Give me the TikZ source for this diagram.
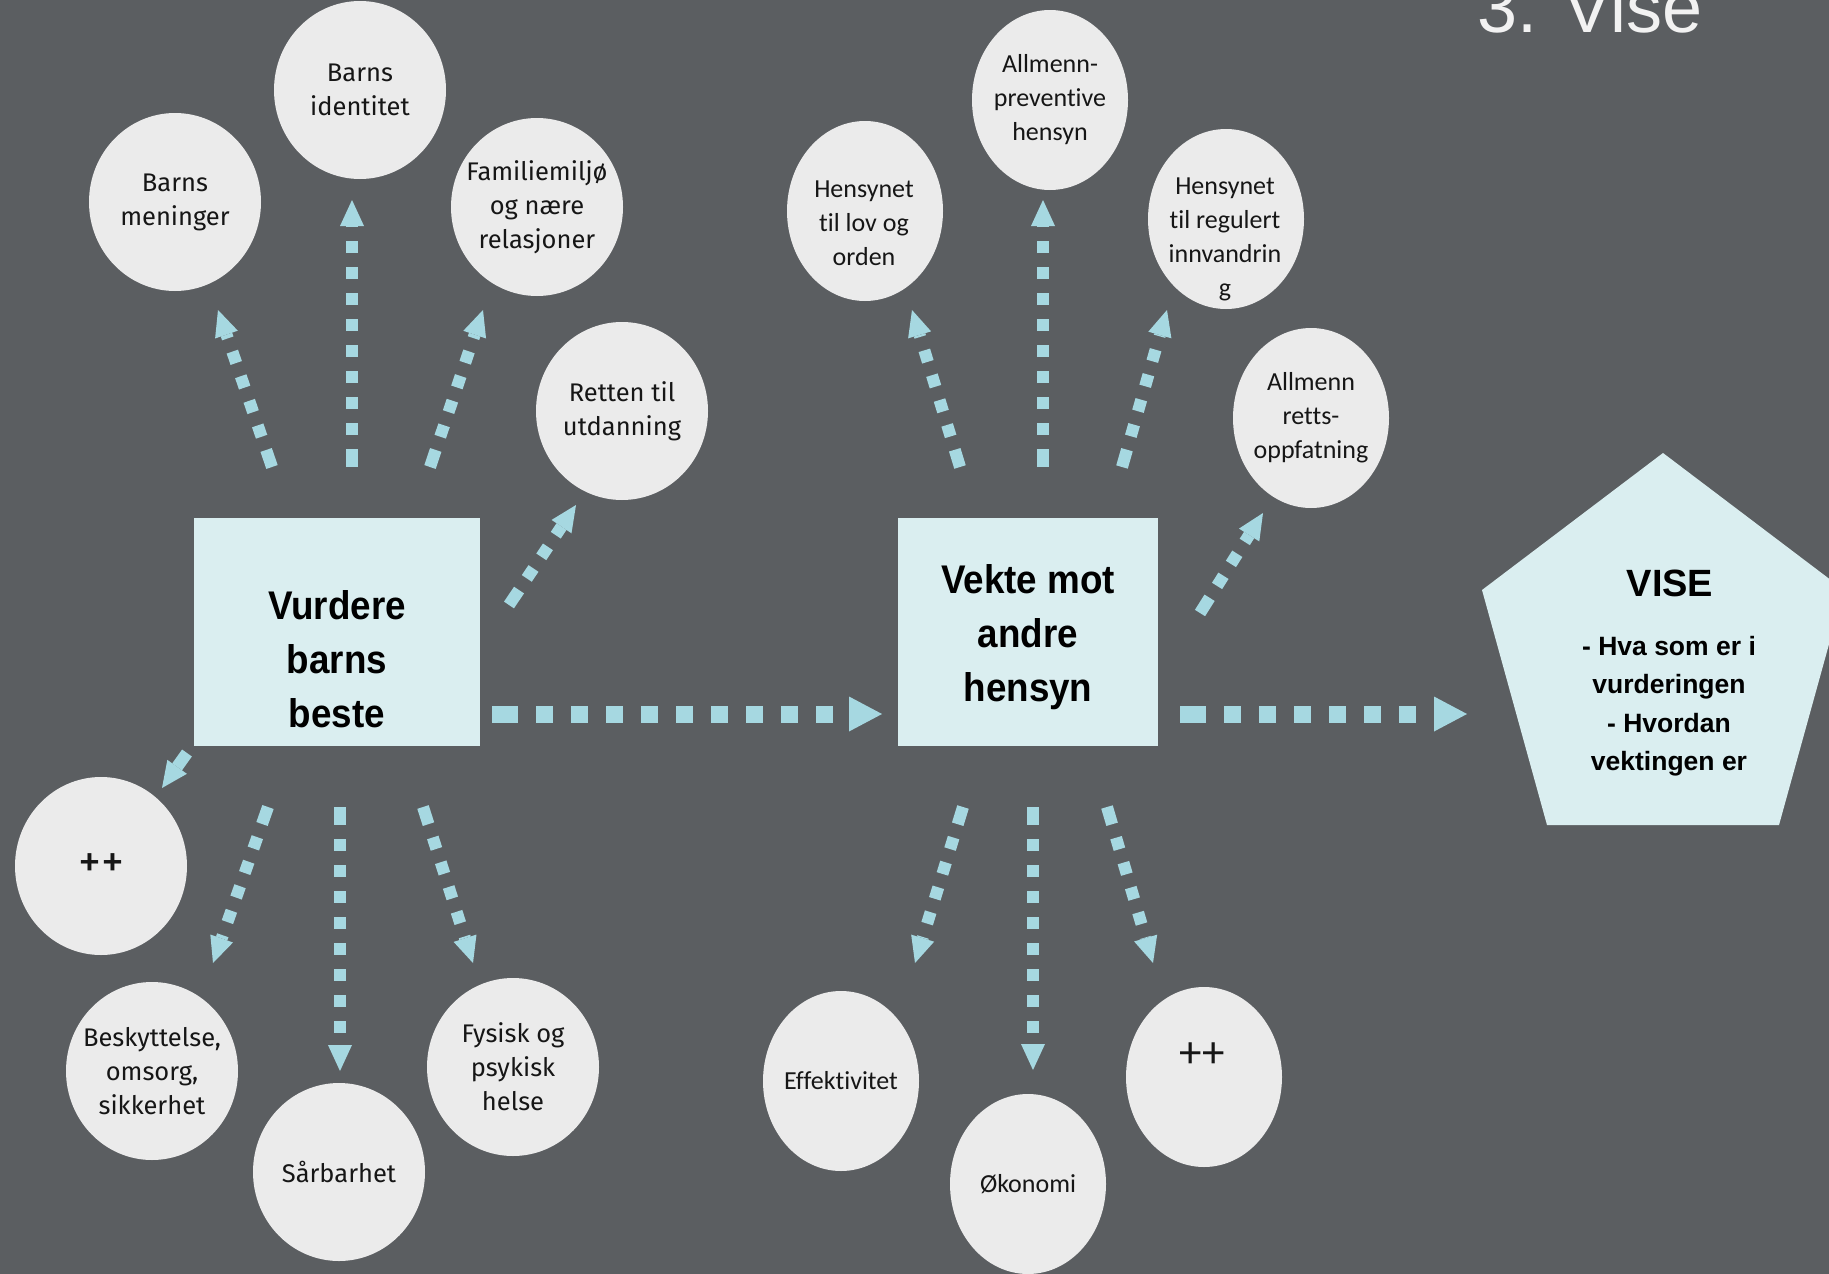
\documentclass[tikz,border=0pt]{standalone}
\usepackage{fontspec}
\setmainfont{Liberation Sans}
\newfontfamily\circfont{Fira Sans}
\newfontfamily\calfont[Ligatures=NoCommon]{Carlito}
\newfontfamily\boxfont[FakeStretch=0.92]{Liberation Sans}
\newfontfamily\pentfont{Liberation Sans}
\usetikzlibrary{shapes.geometric,arrows.meta}
\definecolor{bg}{RGB}{91,94,97}
\definecolor{circ}{RGB}{235,235,235}
\definecolor{boxc}{RGB}{218,238,240}
\definecolor{arrc}{RGB}{166,216,225}
\definecolor{ink}{RGB}{22,22,22}
\definecolor{titlec}{RGB}{242,242,242}
\begin{document}
\begin{tikzpicture}[x=1pt,y=-1pt,
  lcirc/.style={ellipse, fill=circ, inner sep=-30pt, minimum width=172pt, minimum height=178pt,
    text=ink, align=center, font=\circfont\fontsize{25.5}{34}\selectfont},
  mcirc/.style={ellipse, fill=circ, inner sep=-30pt, minimum width=156pt, minimum height=180pt,
    text=ink, align=center, font=\calfont\fontsize{26}{34}\selectfont},
  mtext/.style={text=ink, align=center, inner sep=0pt, font=\calfont\fontsize{26}{34}\selectfont},
  keybox/.style={fill=boxc, inner sep=0pt, minimum width=#1, minimum height=228pt},
  boxtext/.style={text=black, align=center, inner sep=0pt, font=\boxfont\bfseries\fontsize{40}{54}\selectfont},
  penttext/.style={text=black, align=center, inner sep=0pt, font=\pentfont\bfseries\fontsize{26.5}{38.5}\selectfont},
  thinarr/.style={draw=arrc, line width=12pt,
    dash pattern=on 18pt off 14pt on 12pt off 14pt on 12pt off 14pt on 12pt off 14pt on 12pt off 14pt on 12pt off 14pt on 12pt off 14pt on 12pt off 14pt on 12pt off 14pt on 12pt off 14pt on 12pt off 14pt on 12pt off 14pt on 12pt off 14pt,
    -{Triangle[length=26pt,width=24pt,line width=0pt]}},
  thickarr/.style={draw=arrc, line width=17pt,
    dash pattern=on 26pt off 18pt on 17pt off 18pt on 17pt off 18pt on 17pt off 18pt on 17pt off 18pt on 17pt off 18pt on 17pt off 18pt on 17pt off 18pt on 17pt off 18pt on 17pt off 18pt on 17pt off 18pt,
    -{Triangle[length=33pt,width=35pt,line width=0pt]}}
]
\useasboundingbox (0,0) rectangle (1829,1274);
\clip (0,0) rectangle (1829,1274);
\fill[bg] (0,0) rectangle (1829,1274);

% title
\node[anchor=base, inner sep=0pt, text=titlec, font=\fontsize{72}{72}\selectfont] (title) at (1590,32) {3. Vise};

% boxes
\node[keybox=286pt] (b1) at (337,632) {};
\node[boxtext] (b1t) at (337,659) {Vurdere\\barns\\beste};
\node[keybox=260pt] (b2) at (1028,632) {};
\node[boxtext] (b2t) at (1028,637) {Vekte mot\\andre\\hensyn};

% pentagon
\fill[boxc] (1663,453) -- (1844,590) -- (1779,825) -- (1547,825) -- (1482,590) -- cycle;
\coordinate (vise) at (1482,714);
\node[text=black, inner sep=0pt, font=\pentfont\bfseries\fontsize{38}{38}\selectfont] (viset) at (1670,583) {VISE};
\node[penttext] (visel) at (1669,706) {- Hva som er i\\vurderingen\\- Hvordan\\vektingen er};

% left circles
\node[lcirc] (c1) at (175,202) {Barns\\meninger};
\node[lcirc] (c2) at (360,90) {Barns\\identitet};
\node[lcirc] (c3) at (537,207) {Familiemiljø\\og nære\\relasjoner};
\node[lcirc] (c4) at (622,411) {Retten til\\utdanning};
\node[lcirc, font=\circfont\fontsize{46}{46}\selectfont] (c5) at (101,866) {++};
\node[lcirc] (c6) at (152,1071) {Beskyttelse,\\omsorg,\\sikkerhet};
\node[lcirc] (c7) at (339,1172) {Sårbarhet};
\node[lcirc] (c8) at (513,1067) {Fysisk og\\psykisk\\helse};

% middle circles
\node[mcirc] (m1) at (865,211) {};
\node[mtext] (m1t) at (864,223) {Hensynet\\til lov og\\orden};
\node[mcirc] (m2) at (1050,100) {Allmenn-\\preventive\\hensyn};
\node[mcirc] (m3) at (1226,219) {};
\node[mtext] (m3t) at (1225,239) {Hensynet\\til regulert\\innvandrin\\g};
\node[mcirc] (m4) at (1311,418) {Allmenn\\retts-\\oppfatning};
\node[mcirc] (m5) at (841,1081) {Effektivitet};
\node[mcirc] (m6) at (1028,1184) {Økonomi};
\node[mcirc] (m7) at (1204,1077) {};
\node[mtext, font=\calfont\fontsize{45}{45}\selectfont] (m7t) at (1202,1055) {++};

% arrow end points
\coordinate (a1s) at (272,467); \coordinate (a1e) at (218,310);
\coordinate (a2s) at (352,467); \coordinate (a2e) at (352,200);
\coordinate (a3s) at (430,467); \coordinate (a3e) at (483,310);
\coordinate (a4s) at (509,605); \coordinate (a4e) at (576,505);
\coordinate (a5s) at (187,753); \coordinate (a5e) at (162,788);
\coordinate (a6s) at (268,807); \coordinate (a6e) at (213,963);
\coordinate (a7s) at (340,807); \coordinate (a7e) at (340,1071);
\coordinate (a8s) at (423,807); \coordinate (a8e) at (473,963);
\coordinate (a9s) at (960,467); \coordinate (a9e) at (912,310);
\coordinate (a10s) at (1043,467); \coordinate (a10e) at (1043,200);
\coordinate (a11s) at (1122,467); \coordinate (a11e) at (1167,310);
\coordinate (a12s) at (1200,613); \coordinate (a12e) at (1263,513);
\coordinate (a13s) at (963,807); \coordinate (a13e) at (915,963);
\coordinate (a14s) at (1033,807); \coordinate (a14e) at (1033,1070);
\coordinate (a15s) at (1107,807); \coordinate (a15e) at (1153,963);
\coordinate (h1s) at (492,714); \coordinate (h1e) at (882,714);
\coordinate (h2s) at (1180,714); \coordinate (h2e) at (1467,714);

\foreach \i in {1,...,15} {\draw[thinarr] (a\i s) -- (a\i e);}
\draw[thickarr] (h1s) -- (h1e);
\draw[thickarr] (h2s) -- (h2e);
\end{tikzpicture}
\end{document}
